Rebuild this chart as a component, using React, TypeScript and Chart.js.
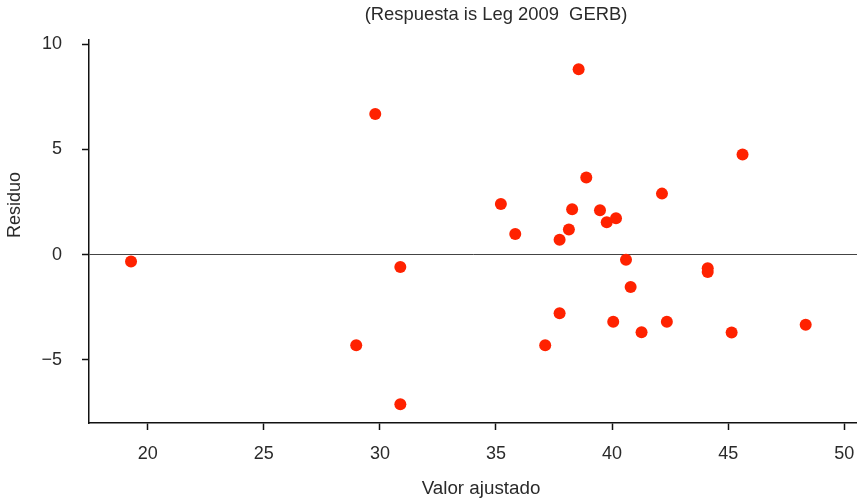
import React, { useEffect, useRef } from "react";
import { Chart, registerables } from "chart.js";

Chart.register(...registerables);

const fittedValues = [
  19.28, 29.8, 30.88, 28.98, 30.88, 37.12, 37.74, 38.56, 38.89, 35.21,
  35.83, 38.28, 38.14, 37.74, 39.48, 39.77, 40.17, 42.15, 45.62, 40.6,
  44.12, 44.12, 40.8, 40.05, 41.27, 42.36, 45.15, 48.34,
];
const residuals = [
  -0.32, 6.68, -0.59, -4.3, -7.11, -4.3, -2.78, 8.81, 3.67, 2.41,
  0.98, 2.16, 1.19, 0.71, 2.11, 1.54, 1.73, 2.9, 4.76, -0.24,
  -0.65, -0.82, -1.54, -3.19, -3.69, -3.19, -3.7, -3.33,
];
const xTicks = [20, 25, 30, 35, 40, 45, 50];
const yTicks = [-5, 0, 5, 10];
const titleText = "(Respuesta is Leg 2009  GERB)";
const xTitle = "Valor ajustado";
const yTitle = "Residuo";

const NARROW = "'Liberation Sans Narrow', 'Arial Narrow', 'Liberation Sans', sans-serif";
const NORMAL = "'Liberation Sans', Arial, Helvetica, sans-serif";
const TEXT = "#2a2a2a";

const textPlugin = {
  id: "textPlugin",
  afterDraw(chart: any) {
    const ctx = chart.ctx;
    ctx.save();
    ctx.fillStyle = TEXT;
    ctx.textBaseline = "middle";
    ctx.textAlign = "center";
    ctx.font = `18.4px ${NORMAL}`;
    ctx.fillText(titleText, 496, 15);
    ctx.font = `18.8px ${NORMAL}`;
    ctx.fillText(xTitle, 481, 489);
    ctx.translate(15, 205);
    ctx.rotate(-Math.PI / 2);
    ctx.font = `18px ${NARROW}`;
    ctx.fillText(yTitle, 0, 0);
    ctx.restore();
  },
};

export default function App() {
  const ref = useRef<HTMLCanvasElement>(null);
  useEffect(() => {
    if (!ref.current) return;
    const data = fittedValues.map((x, i) => ({ x, y: residuals[i] }));
    const chart = new Chart(ref.current, {
      type: "scatter",
      data: {
        datasets: [
          {
            data,
            backgroundColor: "#ff2200",
            borderWidth: 0,
            pointRadius: 6,
            pointHoverRadius: 6,
          },
        ],
      },
      options: {
        animation: false,
        responsive: false,
        maintainAspectRatio: false,
        layout: { autoPadding: false, padding: { top: 40, left: 0, right: 0, bottom: 0 } },
        plugins: {
          legend: { display: false },
          tooltip: { enabled: false },
          title: { display: false },
        },
        scales: {
          x: {
            type: "linear",
            min: 17.47,
            max: 50.55,
            afterFit: (s: any) => {
              s.height = 79;
              s.paddingLeft = 0;
              s.paddingRight = 0;
            },
            afterBuildTicks: (s: any) => {
              s.ticks = xTicks.map((v) => ({ value: v }));
            },
            border: { display: true, color: "#111", width: 1.5 },
            grid: {
              drawOnChartArea: false,
              drawTicks: true,
              tickLength: 7,
              tickColor: "#111",
              tickWidth: 1.5,
            },
            ticks: {
              color: TEXT,
              font: { family: NARROW, size: 18 },
              padding: 13,
              maxRotation: 0,
              autoSkip: false,
            },
          },
          y: {
            type: "linear",
            min: -8,
            max: 10.2,
            afterFit: (s: any) => {
              s.width = 89;
              s.paddingTop = 0;
              s.paddingBottom = 0;
            },
            afterBuildTicks: (s: any) => {
              s.ticks = yTicks.map((v) => ({ value: v }));
            },
            border: { display: true, color: "#111", width: 1.5 },
            grid: {
              drawOnChartArea: true,
              color: (c: any) => (c.tick && c.tick.value === 0 ? "#444" : "rgba(0,0,0,0)"),
              lineWidth: 1,
              drawTicks: true,
              tickLength: 7,
              tickColor: "#111",
              tickWidth: 1.5,
            },
            ticks: {
              color: TEXT,
              font: { family: NARROW, size: 18 },
              padding: 20,
              autoSkip: false,
              callback: (v: any) => (v < 0 ? "\u2212" + Math.abs(v) : String(v)),
            },
          },
        },
      },
      plugins: [textPlugin],
    });
    return () => chart.destroy();
  }, []);
  return (
    <div style={{ position: "absolute", left: 0, top: 0, width: 857, height: 502, background: "#fff" }}>
      <canvas ref={ref} width={857} height={502} style={{ width: 857, height: 502, display: "block" }} />
    </div>
  );
}
